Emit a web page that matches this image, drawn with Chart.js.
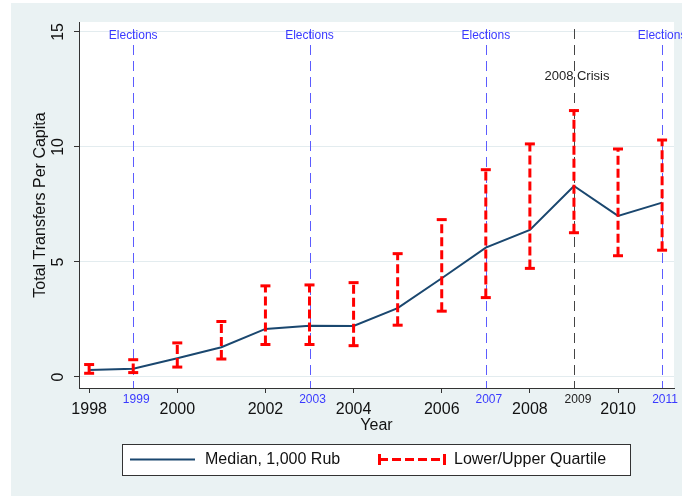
<!DOCTYPE html>
<html>
<head>
<meta charset="utf-8">
<script src="https://cdn.jsdelivr.net/npm/chart.js"></script>
<style>
  html, body { margin: 0; padding: 0; background: #fff; }
  #wrap { width: 682px; height: 496px; }
</style>
</head>
<body>
<div id="wrap"><canvas id="chart" width="682" height="496"></canvas></div>
<script>
// data
const years   = [1998, 1999, 2000, 2001, 2002, 2003, 2004, 2005, 2006, 2007, 2008, 2009, 2010, 2011];
const median  = [0.30, 0.36, 0.81, 1.29, 2.09, 2.23, 2.22, 2.99, 4.29, 5.62, 6.39, 8.30, 7.00, 7.58];
const lowerQ  = [0.16, 0.19, 0.43, 0.78, 1.41, 1.41, 1.36, 2.25, 2.86, 3.45, 4.72, 6.27, 5.27, 5.51];
const upperQ  = [0.54, 0.75, 1.48, 2.41, 3.96, 4.00, 4.10, 5.36, 6.84, 9.01, 10.13, 11.58, 9.91, 10.30];
const electionYears = [1999, 2003, 2007, 2011];
const crisisYear = 2009;
const xTicks = [1998, 2000, 2002, 2004, 2006, 2008, 2010];
const yTicks = [0, 5, 10, 15];

const FONT = 'Arial, "Liberation Sans", sans-serif';
const NAVY = '#1a476f';
const RED = '#ff0000';
const BG = '#eaf2f3';
Chart.defaults.font.family = FONT;
Chart.defaults.color = '#111';

// one dataset for all quartile bars, broken by null points
const quartilePts = [];
years.forEach((yr, i) => {
  quartilePts.push({ x: yr, y: lowerQ[i] }, { x: yr, y: upperQ[i] }, { x: yr, y: null });
});

const backdrop = {
  id: 'backdrop',
  beforeDraw(chart) {
    const { ctx, chartArea: a } = chart;
    ctx.save();
    ctx.fillStyle = '#fff';
    ctx.fillRect(0, 0, chart.width, chart.height);
    ctx.fillStyle = BG;
    ctx.fillRect(11, 3, chart.width - 11, chart.height - 3);
    ctx.fillStyle = '#fff';
    ctx.fillRect(a.left, a.top, a.right - a.left, a.bottom - a.top);
    ctx.restore();
  }
};

const refLines = {
  id: 'refLines',
  beforeDatasetsDraw(chart) {
    const { ctx, chartArea: a, scales: { x } } = chart;
    ctx.save();
    ctx.lineWidth = 1;
    ctx.setLineDash([10, 6]);
    const draw = (yr, color) => {
      const px = Math.round(x.getPixelForValue(yr)) + 0.5;
      ctx.strokeStyle = color;
      ctx.beginPath();
      ctx.moveTo(px, a.top + 7);
      ctx.lineTo(px, a.bottom);
      ctx.stroke();
    };
    electionYears.forEach(yr => draw(yr, '#5c5cff'));
    draw(crisisYear, '#444');
    ctx.setLineDash([]);
    ctx.textAlign = 'center';
    ctx.textBaseline = 'middle';
    ctx.font = '12px ' + FONT;
    electionYears.forEach(yr => {
      const px = x.getPixelForValue(yr);
      ctx.fillStyle = '#3a3aff';
      ctx.fillText('Elections', px, 36);
      ctx.fillText(String(yr), px + 3, 400);
    });
    ctx.fillStyle = '#222';
    ctx.font = '13px ' + FONT;
    ctx.fillText('2008 Crisis', x.getPixelForValue(crisisYear) + 3, 76);
    ctx.font = '12px ' + FONT;
    ctx.fillText(String(crisisYear), x.getPixelForValue(crisisYear) + 4, 400);
    ctx.restore();
  }
};

const yLabels = {
  id: 'yLabels',
  afterDraw(chart) {
    const { ctx, scales: { y } } = chart;
    ctx.save();
    ctx.fillStyle = '#111';
    ctx.font = '16px ' + FONT;
    ctx.textAlign = 'center';
    ctx.textBaseline = 'alphabetic';
    yTicks.forEach(v => {
      ctx.save();
      ctx.translate(63, y.getPixelForValue(v));
      ctx.rotate(-Math.PI / 2);
      ctx.fillText(String(v), 0, 0);
      ctx.restore();
    });
    ctx.restore();
  }
};

const boxLegend = {
  id: 'boxLegend',
  afterDraw(chart) {
    const ctx = chart.ctx;
    ctx.save();
    ctx.fillStyle = '#fff';
    ctx.fillRect(122, 444, 508, 31);
    ctx.strokeStyle = '#333';
    ctx.lineWidth = 1;
    ctx.strokeRect(122.5, 444.5, 508, 31);
    // median sample
    ctx.strokeStyle = NAVY;
    ctx.lineWidth = 2;
    ctx.beginPath(); ctx.moveTo(130, 459.5); ctx.lineTo(195, 459.5); ctx.stroke();
    // quartile sample
    ctx.strokeStyle = RED;
    ctx.lineWidth = 3;
    ctx.setLineDash([9, 4]);
    ctx.beginPath(); ctx.moveTo(379, 459.5); ctx.lineTo(445, 459.5); ctx.stroke();
    ctx.setLineDash([]);
    ctx.beginPath();
    ctx.moveTo(379.5, 454); ctx.lineTo(379.5, 465);
    ctx.moveTo(444.5, 454); ctx.lineTo(444.5, 465);
    ctx.stroke();
    ctx.fillStyle = '#111';
    ctx.font = '16px ' + FONT;
    ctx.textAlign = 'left';
    ctx.textBaseline = 'middle';
    ctx.fillText('Median, 1,000 Rub', 205, 460);
    ctx.fillText('Lower/Upper Quartile', 454, 460);
    ctx.restore();
  }
};

new Chart(document.getElementById('chart'), {
  type: 'line',
  data: {
    datasets: [
      {
        label: 'Lower/Upper Quartile',
        data: quartilePts,
        borderColor: RED,
        borderWidth: 3,
        borderDash: [9, 4],
        borderCapStyle: 'butt',
        pointStyle: 'line',
        pointRadius: 5,
        pointBorderWidth: 3,
        pointBorderColor: RED,
        pointBackgroundColor: RED,
        spanGaps: false,
        order: 0
      },
      {
        label: 'Median, 1,000 Rub',
        data: years.map((yr, i) => ({ x: yr, y: median[i] })),
        borderColor: NAVY,
        borderWidth: 2,
        pointRadius: 0,
        tension: 0,
        order: 1
      }
    ]
  },
  options: {
    responsive: false,
    animation: false,
    devicePixelRatio: 1,
    layout: { padding: { top: 22, right: 7, bottom: 61, left: 0 } },
    plugins: { legend: { display: false }, tooltip: { enabled: false } },
    scales: {
      x: {
        type: 'linear',
        min: 1997.77,
        max: 2011.27,
        afterFit: s => { s.height = 47; },
        afterBuildTicks: s => { s.ticks = xTicks.map(v => ({ value: v })); },
        ticks: { callback: v => String(v), font: { size: 16 }, color: '#111', padding: 7, maxRotation: 0 },
        grid: { drawOnChartArea: false, tickLength: 5, tickColor: '#333', tickWidth: 1 },
        border: { color: '#333', width: 1 },
        title: { display: true, text: 'Year', font: { size: 16 }, color: '#111', padding: { top: 0, bottom: 0 } }
      },
      y: {
        type: 'linear',
        min: -0.48,
        max: 15.43,
        afterFit: s => { s.width = 79; },
        afterBuildTicks: s => { s.ticks = yTicks.map(v => ({ value: v })); },
        ticks: { display: false },
        grid: { color: '#e3ecef', lineWidth: 1, tickLength: 5, tickColor: '#333', drawTicks: true },
        border: { color: '#333', width: 1 },
        title: { display: true, text: 'Total Transfers Per Capita', font: { size: 16 }, color: '#111', padding: { top: 31, bottom: 0 } }
      }
    }
  },
  plugins: [backdrop, refLines, yLabels, boxLegend]
});
</script>
</body>
</html>
